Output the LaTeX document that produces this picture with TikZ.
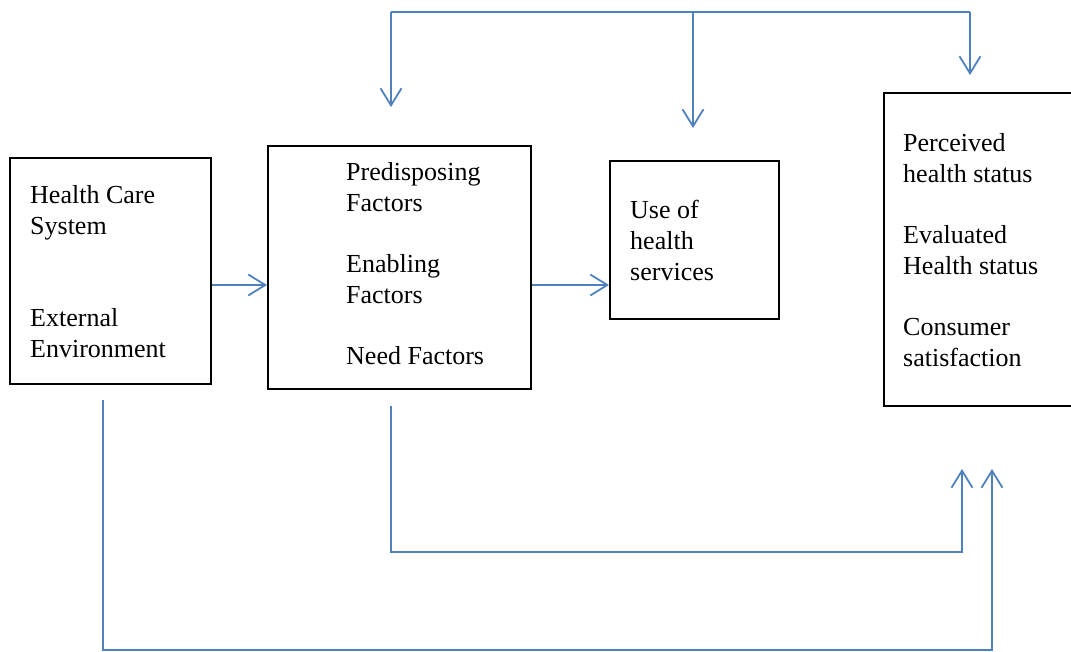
\documentclass[tikz,border=0pt]{standalone}
\usepackage{fontspec}
\setmainfont{Liberation Serif}
\usetikzlibrary{arrows.meta}
\definecolor{linkblue}{RGB}{79,129,189}
\tikzset{
  box/.style={draw=black, line width=1.6pt, fill=none, anchor=north west, inner sep=0pt},
  lbl/.style={anchor=base west, inner sep=0pt, font=\fontsize{26}{31}\selectfont, text=black},
  conn/.style={draw=linkblue, line width=1.8pt,
    -{Straight Barb[length=17pt,width=21pt,line width=1.8pt]}},
  wire/.style={draw=linkblue, line width=1.8pt},
}
\begin{document}
\begin{tikzpicture}[x=1pt, y=-1pt]
\useasboundingbox (0,0) rectangle (1071,651);

% boxes
\node[box, minimum width=201pt, minimum height=226pt] (hcs) at (9,157) {};
\node[box, minimum width=263pt, minimum height=243pt] (fac) at (267,145) {};
\node[box, minimum width=169pt, minimum height=158pt] (use) at (609,160) {};
\node[box, minimum width=200pt, minimum height=313pt] (out) at (883,92) {};

% box texts
\node[lbl] (hcs1) at (30,203) {Health Care};
\node[lbl] (hcs2) at (30,234) {System};
\node[lbl] (hcs3) at (30,326) {External};
\node[lbl] (hcs4) at (30,357) {Environment};

\node[lbl] (fac1) at (346,180) {Predisposing};
\node[lbl] (fac2) at (346,211) {Factors};
\node[lbl] (fac3) at (346,272) {Enabling};
\node[lbl] (fac4) at (346,303) {Factors};
\node[lbl] (fac5) at (346,364) {Need Factors};

\node[lbl] (use1) at (630,218) {Use of};
\node[lbl] (use2) at (630,249) {health};
\node[lbl] (use3) at (630,280) {services};

\node[lbl] (out1) at (903,151) {Perceived};
\node[lbl] (out2) at (903,182) {health status};
\node[lbl] (out3) at (903,243) {Evaluated};
\node[lbl] (out4) at (903,274) {Health status};
\node[lbl] (out5) at (903,335) {Consumer};
\node[lbl] (out6) at (903,366) {satisfaction};

% flow level
\coordinate (row) at (0,285);
\draw[conn] (hcs.east |- row) -- (fac.west |- row);
\draw[conn] (fac.east |- row) -- (use.west |- row);

% feedback bracket along the top
\coordinate (tA) at (391,12);
\coordinate (tB) at (693,12);
\coordinate (tC) at (970,12);
\coordinate (eA) at (391,107);
\coordinate (eB) at (693,128);
\coordinate (eC) at (970,75);
\draw[wire] (tA) -- (tC);
\draw[conn] (tA) -- (eA);
\draw[conn] (tB) -- (eB);
\draw[conn] (tC) -- (eC);

% lower links to the outcomes
\coordinate (fA) at (391,406);
\coordinate (fB) at (962,469);
\draw[conn] (fA) |- (962,552) -- (fB);
\coordinate (hA) at (103,400);
\coordinate (hB) at (992,469);
\draw[conn] (hA) |- (992,650) -- (hB);
\end{tikzpicture}
\end{document}
